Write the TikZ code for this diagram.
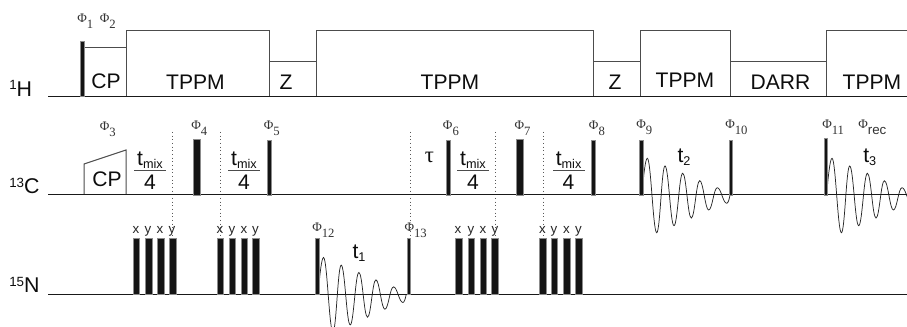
\documentclass[tikz,border=0pt]{standalone}
\usepackage{fontspec}
\setmainfont{Liberation Sans}
\newfontfamily\phifont{Liberation Serif}
\newcommand{\Ph}[1]{{\phifont\fontsize{9.8}{10}\selectfont\char"03A6\raisebox{-4.5pt}{\fontsize{9.5}{10}\selectfont #1}}}
\newcommand{\nuc}[2]{\raisebox{5.2pt}{\fontsize{10}{10}\selectfont #1}#2}
\newcommand{\tsub}[1]{t\raisebox{-2pt}{\fontsize{9.5}{10}\selectfont #1}}
\newcommand{\fidpath}{(0,0) .. controls (1.5,-20) and (3.5,-36.7) .. (5.3,-36.7)
 .. controls +(3.6,0) and +(-3.6,0) .. (14.7,37.7)
 .. controls +(3.4,0) and +(-3.4,0) .. (23,-29)
 .. controls +(3.6,0) and +(-3.6,0) .. (32,30.7)
 .. controls +(3.5,0) and +(-3.5,0) .. (40.7,-21.7)
 .. controls +(3.5,0) and +(-3.5,0) .. (49.3,23)
 .. controls +(3.4,0) and +(-3.4,0) .. (57.7,-14.3)
 .. controls +(3.6,0) and +(-3.6,0) .. (66.7,15)
 .. controls +(3.5,0) and +(-3.5,0) .. (75.3,-7.3)
 .. controls +(3.7,0) and +(-3.7,0) .. (84.7,8.3)
 .. controls +(1.5,0) and +(-0.7,4) .. (88,0)}
\tikzset{
  x=0.75pt,y=-0.75pt,
  axis/.style={draw=black!90,line width=0.8pt},
  block/.style={draw=black!70,line width=0.75pt},
  pulsebar/.style={fill=black!92,draw=black!45,line width=0.3pt},
  dots/.style={draw=black!65,line width=0.75pt,dotted},
  fid/.style={draw=black!85,line width=0.55pt},
  bigtxt/.style={inner sep=0pt,anchor=base,font=\fontsize{15.8}{16}\selectfont,text=black!95},
  nuctxt/.style={inner sep=0pt,anchor=base west,font=\fontsize{16}{17}\selectfont,text=black!95},
  ph/.style={inner sep=0pt,anchor=base west,text=black!80},
  xy/.style={inner sep=0pt,anchor=base,font=\fontsize{10}{10}\selectfont,text=black!85},
  frline/.style={draw=black!70,line width=0.75pt},
}
\newcommand{\pulsebox}[4]{\path[pulsebar] (#1,#3) rectangle (#2,#4);}
\begin{document}
\begin{tikzpicture}
\useasboundingbox (0,0) rectangle (907,327);
\fill[white] (0,0) rectangle (907,327);
\begin{scope}
\clip (0,0) rectangle (907,327);
% free induction decays
\draw[fid,shift={(318.2,294.2)}] \fidpath;
\draw[fid,shift={(642,195)}] \fidpath;
\draw[fid,shift={(826.7,195)}] \fidpath;
% dotted guides
\foreach \gx/\gy in {172/237,220/237,410/240,495/235,543/235}
  \draw[dots] (\gx,132) -- (\gx,\gy);
% 1H blocks
\draw[block] (84,97) |- (126,48);
\draw[block] (126,97) |- (269,31) -- (269,97);
\draw[block] (269,62) -- (316,62);
\draw[block] (316,97) |- (593,31) -- (593,97);
\draw[block] (593,62) -- (640,62);
\draw[block] (640,97) |- (730.7,31) -- (730.7,97);
\draw[block] (730.7,62) -- (826,62);
\draw[block] (826,97) |- (907,31);
\draw[axis] (48,96.5) -- (907,96.5);
\pulsebox{80}{84}{41}{96.5}
% 13C
\draw[block] (84,195) -- (84,164) -- (126,150) -- (126,195);
\draw[axis] (48,194.6) -- (907,194.6);
\pulsebox{193}{200}{139}{195}
\pulsebox{267}{271}{140}{195}
\pulsebox{446}{450}{140}{195}
\pulsebox{516}{523}{139}{195}
\pulsebox{591}{595}{140}{195}
\pulsebox{639}{643}{140}{195}
\pulsebox{729}{732}{140}{195}
\pulsebox{824}{827.5}{138}{195}
% 15N
\draw[axis] (48,294.5) -- (907,294.5);
\foreach \xa/\xb in {133/139.5,145/152,157/164,169/176,217/223,229/235.5,241/247,252/259,455/462,468/474,480/486.5,491.5/498.5,539/546,551/557,563/570,575/582}
  {\pulsebox{\xa}{\xb}{238}{294.5}}
\pulsebox{315}{319}{238}{294.5}
\pulsebox{407}{410}{238}{294.5}
\end{scope}
% fraction bars
\foreach \xa/\xb in {134/166,228/260,457/489,553/584.5}
  {\draw[frline] (\xa,170.7) -- (\xb,170.7);}
% nucleus labels
\node[nuctxt] (h1) at (9,96.5) {\nuc{1}{H}};
\node[nuctxt] (c13) at (9,194) {\nuc{13}{C}};
\node[nuctxt] (n15) at (9,293) {\nuc{15}{N}};
% block labels
\node[bigtxt] (cpa) at (106,88.5) {CP};
\node[bigtxt] (tppma) at (195.5,90) {TPPM};
\node[bigtxt] (za) at (286,90) {Z};
\node[bigtxt] (tppmb) at (450,90) {TPPM};
\node[bigtxt] (zb) at (615,89.5) {Z};
\node[bigtxt] (tppmc) at (685,88) {TPPM};
\node[bigtxt] (darr) at (780.5,90) {DARR};
\node[bigtxt] (tppmd) at (872,89.5) {TPPM};
\node[bigtxt] (cpb) at (107,187) {CP};
% mixing labels
\foreach \nm/\cx in {a/150,b/244,c/473,d/568.6}{
  \node[bigtxt] (mix\nm) at (\cx,166) {\tsub{mix}};
  \node[bigtxt] (four\nm) at (\cx,190) {4};
}
\node[bigtxt,font=\phifont\fontsize{17}{17}\selectfont] (tau) at (429.5,163) {\char"03C4};
\node[bigtxt] (tone) at (359,259) {\tsub{1}};
\node[bigtxt] (ttwo) at (684,163) {\tsub{2}};
\node[bigtxt] (tthree) at (869.7,163) {\tsub{3}};
% phases
\node[ph] (p1) at (77,23) {\Ph{1}};
\node[ph] (p2) at (99.5,23) {\Ph{2}};
\node[ph] (p3) at (99.5,131) {\Ph{3}};
\node[ph] (p4) at (191,130) {\Ph{4}};
\node[ph] (p5) at (263.5,130) {\Ph{5}};
\node[ph] (p6) at (442.7,130) {\Ph{6}};
\node[ph] (p7) at (514.3,130) {\Ph{7}};
\node[ph] (p8) at (588.7,130) {\Ph{8}};
\node[ph] (p9) at (636,129) {\Ph{9}};
\node[ph] (p10) at (725,129) {\Ph{10}};
\node[ph] (p11) at (822,129) {\Ph{11}};
\node[ph] (prec) at (858,129) {{\phifont\fontsize{9.8}{10}\selectfont\char"03A6}\raisebox{-4pt}{\fontsize{10}{10}\selectfont rec}};
\node[ph] (p12) at (312,232) {\Ph{12}};
\node[ph] (p13) at (404.3,232) {\Ph{13}};
% x y labels
\foreach \cx/\lbl [count=\li] in {136/x,148/y,160/x,172/y,220/x,232/y,244/x,255.5/y,458/x,471/y,483/x,495/y,542.5/x,554/y,566.5/x,578.5/y}
  {\node[xy] (lab\li) at (\cx,234) {\lbl};}
\end{tikzpicture}
\end{document}
